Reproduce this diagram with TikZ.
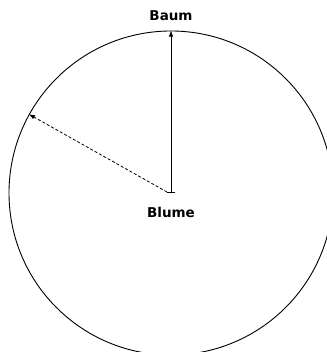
\documentclass[tikz,border=0pt]{standalone}
\usepackage{fontspec}
\setmainfont{DejaVu Sans}
\usetikzlibrary{arrows.meta}
\tikzset{
  lbl/.style={font=\bfseries\fontsize{13.5}{15}\selectfont, inner sep=0pt},
  ring/.style={circle, draw, line width=0.9pt, minimum size=324pt, inner sep=0pt},
  conn/.style={line width=0.8pt}
}
\begin{document}
\begin{tikzpicture}[x=1pt,y=1pt]
\useasboundingbox (0,0) rectangle (326,352);
\fill[white] (0,0) rectangle (326,352);
\node[ring] (circ) at (171,159) {};
\coordinate (start) at (171,159);
\coordinate (dstart) at (167,160);
\node[lbl] (baum) at (171,336) {Baum};
\node[lbl] (blume) at (171,140) {Blume};
\draw[conn, {Bar[width=8pt]}-{Latex[length=6pt,width=4.5pt]}] (start) -- (circ.north);
\draw[conn, dashed, dash pattern=on 3pt off 2pt, -{Latex[length=6pt,width=4.5pt]}] (dstart) -- (circ.151);
\end{tikzpicture}
\end{document}
